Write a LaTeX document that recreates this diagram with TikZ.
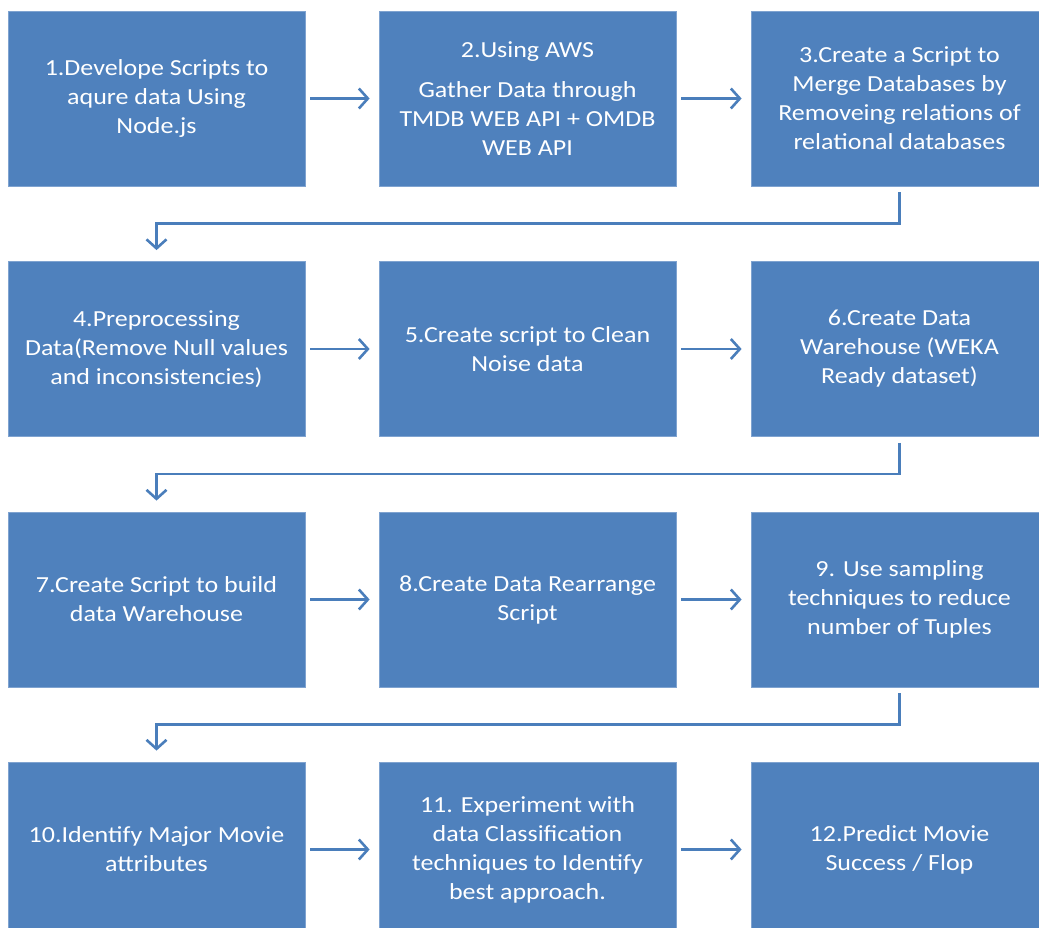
\documentclass[tikz,border=0pt]{standalone}
\usepackage{fontspec}
\setmainfont{Carlito}[FakeStretch=1.13]
\usetikzlibrary{arrows.meta,calc}
\definecolor{boxblue}{HTML}{4F81BD}
\definecolor{boxedge}{HTML}{7FA3D0}
\definecolor{arrblue}{HTML}{4A7EBB}
\tikzset{
  stepbox/.style={fill=boxblue, draw=boxedge, line width=0.8pt,
    minimum width=297pt, minimum height=175pt, inner sep=0pt,
    text=white, align=center, font=\fontsize{23}{29}\selectfont},
  harr/.style={draw=arrblue, line width=2.6pt,
    -{Straight Barb[length=9pt,width=20pt,line width=2.6pt]},
    shorten <=5pt, shorten >=9pt},
  varr/.style={draw=arrblue, line width=2.6pt, rounded corners=0pt,
    -{Straight Barb[length=9pt,width=20pt,line width=2.6pt]},
    shorten <=6pt, shorten >=11pt}
}
\begin{document}
\begin{tikzpicture}[x=1pt,y=-1pt]
\useasboundingbox (0,0) rectangle (1039,928);
\clip (0,0) rectangle (1039,928);
\fill[white] (0,0) rectangle (1039,928);
% row 1
\node[stepbox] (b1) at (156.5,98.5) {1.Develope Scripts to\\aqure data Using\\Node.js};
\node[stepbox] (b2) at (527.5,98.5) {2.Using AWS\\[11pt]Gather Data through\\TMDB WEB API + OMDB\\WEB API};
\node[stepbox] (b3) at (899.5,98.5) {3.Create a Script to\\Merge Databases by\\Removeing relations of\\relational databases};
% row 2
\node[stepbox] (b4) at (156.5,349) {4.Preprocessing\\Data(Remove Null values\\and inconsistencies)};
\node[stepbox] (b5) at (527.5,349) {5.Create script to Clean\\Noise data};
\node[stepbox] (b6) at (899.5,349) {6.Create Data\\Warehouse (WEKA\\Ready dataset)};
% row 3
\node[stepbox] (b7) at (156.5,599.5) {7.Create Script to build\\data Warehouse};
\node[stepbox] (b8) at (527.5,599.5) {8.Create Data Rearrange\\Script};
\node[stepbox] (b9) at (899.5,599.5) {9. Use sampling\\techniques to reduce\\number of Tuples};
% row 4
\node[stepbox] (b10) at (156.5,849.5) {10.Identify Major Movie\\attributes};
\node[stepbox] (b11) at (527.5,849.5) {11. Experiment with\\data Classification\\techniques to Identify\\best approach.};
\node[stepbox] (b12) at (899.5,849.5) {12.Predict Movie\\Success / Flop};
% horizontal arrows
\draw[harr] (b1) -- (b2);
\draw[harr] (b2) -- (b3);
\draw[harr] (b4) -- (b5);
\draw[harr] (b5) -- (b6);
\draw[harr] (b7) -- (b8);
\draw[harr] (b8) -- (b9);
\draw[harr] (b10) -- (b11);
\draw[harr] (b11) -- (b12);
% elbow connectors
\coordinate (c1) at ($(b3.south)+(0,37)$);
\coordinate (c2) at ($(b6.south)+(0,37)$);
\coordinate (c3) at ($(b9.south)+(0,37)$);
\draw[varr] (b3.south) -- (c1) -| (b4.north);
\draw[varr] (b6.south) -- (c2) -| (b7.north);
\draw[varr] (b9.south) -- (c3) -| (b10.north);
\end{tikzpicture}
\end{document}
